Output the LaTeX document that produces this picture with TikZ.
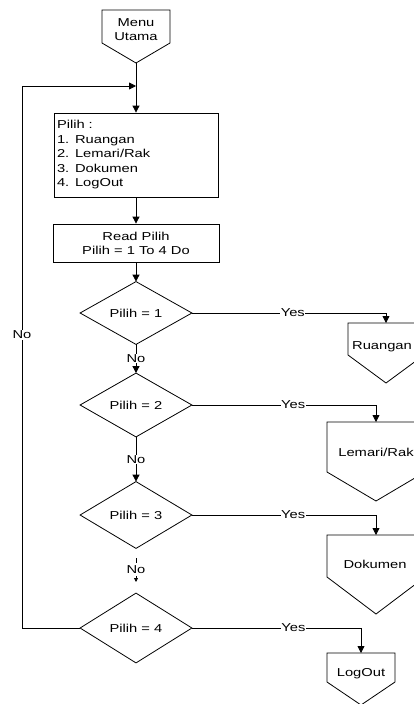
\documentclass[tikz,border=0pt]{standalone}
\usepackage{fontspec}
\setmainfont[FakeStretch=1.28]{Liberation Sans}
\usetikzlibrary{arrows.meta,calc}

% off-page connector: name, centre x, top y, half width, side bottom y, tip y, text y, text
\newcommand\opconn[8]{%
  \draw (#2-#4,#3) -- (#2+#4,#3) -- (#2+#4,#5) -- (#2,#6) -- (#2-#4,#5) -- cycle;
  \coordinate (#1) at (#2,#3);
  \node[lbl] (#1-t) at (#7) {#8};}

\begin{document}
\begin{tikzpicture}[x=1pt,y=-1pt,line width=0.8pt,
  lbl/.style={font=\fontsize{11.5}{14}\selectfont,inner sep=1pt},
  yes/.style={lbl,fill=white,inner sep=0.5pt},
  arr/.style={-{Triangle[length=7pt,width=7pt]}},
  dec/.style={minimum width=111pt,minimum height=62pt,inner sep=0pt,
              font=\fontsize{11.5}{14}\selectfont}]
\useasboundingbox (0,0) rectangle (414,704);

% start connector
\draw (102,10) -- (170,10) -- (170,43) -- (136,63) -- (102,43) -- cycle;
\node[lbl,align=center] (start) at (136,30) {Menu\\Utama};
\coordinate (startTip) at (136,63);

% menu box
\node[draw,align=left,text width=158pt,inner xsep=3pt,inner ysep=0pt,
      minimum height=84pt,font=\fontsize{11.5}{14.5}\selectfont] (menu) at (136,155)
  {Pilih :\\1. Ruangan\\2. Lemari/Rak\\3. Dokumen\\4. LogOut};

% read box
\node[draw,align=center,minimum width=166pt,minimum height=38pt,inner sep=0pt,
      font=\fontsize{11.5}{14}\selectfont] (read) at (136,243)
  {Read Pilih\\Pilih = 1 To 4 Do};

% decisions
\foreach \n/\y/\h in {1/313/62,2/405/63,3/515/66,4/628/69}{
  \node[dec,minimum height=\h pt] (d\n) at (136,\y) {Pilih = \n};
  \draw (d\n.west) -- (d\n.north) -- (d\n.east) -- (d\n.south) -- cycle;
}

% targets
\opconn{ruang}{386}{323}{38}{355}{383}{382,347}{Ruangan}
\opconn{lemari}{376}{422}{49}{472}{501}{376,452}{Lemari/Rak}
\opconn{dok}{376}{535}{49}{577}{614}{375,564}{Dokumen}
\opconn{logout}{361}{653}{34}{682}{705}{361,674}{LogOut}

% main flow
\draw[arr] (startTip) -- (menu.north);
\draw[arr] (menu.south) -- (read.north);
\draw[arr] (read.south) -- (d1.north);
\draw[arr] (d1.south) -- node[yes] {No} (d2.north);
\draw[arr] (d2.south) -- node[yes] {No} (d3.north);
\draw ($(d3.south)+(0,10)$) -- ($(d3.south)+(0,15)$);
\node[lbl] (no3) at (136,570) {No};
\draw[-{Triangle[length=4pt,width=4pt]}] (136,576) -- (136,582);

% yes branches
\draw[arr] (d1.east) -- node[yes,pos=0.52] {Yes} (ruang |- d1.east) -- (ruang);
\draw[arr] (d2.east) -- node[yes,pos=0.55] {Yes} (lemari |- d2.east) -- (lemari);
\draw[arr] (d3.east) -- node[yes,pos=0.55] {Yes} (dok |- d3.east) -- (dok);
\draw[arr] (d4.east) -- node[yes,pos=0.6] {Yes} (logout |- d4.east) -- (logout);

% loop back
\coordinate (lb) at (22,628);
\coordinate (lt) at (22,86);
\coordinate (join) at (136,86);
\draw[arr] (d4.west) -- (lb) -- (lt) -- (join);
\node[yes] (noloop) at (22,335) {No};
\end{tikzpicture}
\end{document}
